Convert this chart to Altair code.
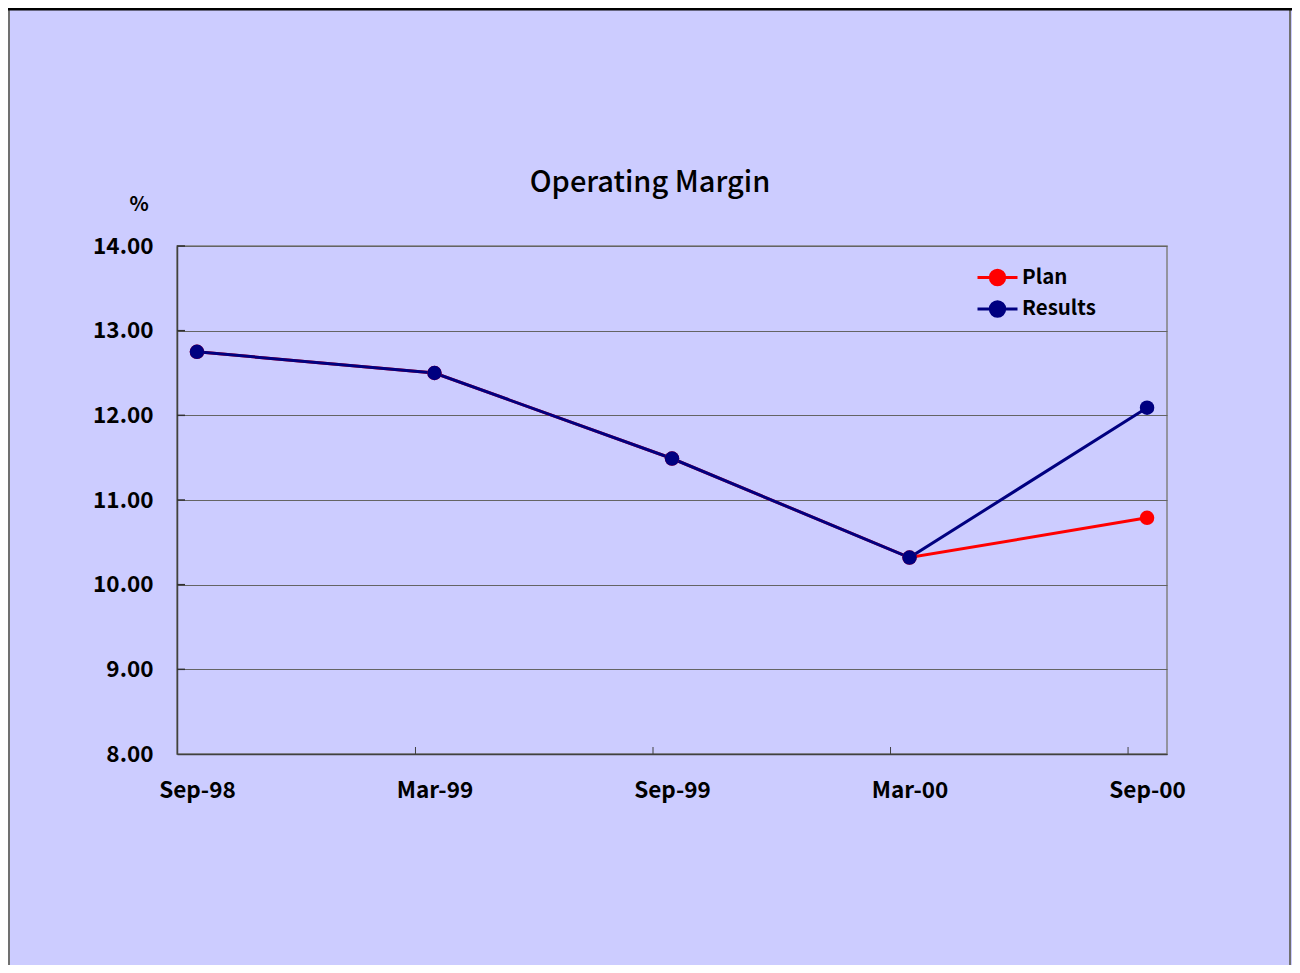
import altair as alt
import pandas as pd

periods = ["Sep-98", "Mar-99", "Sep-99", "Mar-00", "Sep-00"]
plan = [12.75, 12.50, 11.49, 10.32, 10.79]
results = [12.75, 12.50, 11.49, 10.32, 12.09]
series = ["Plan", "Results"]
colors = ["#FF0000", "#000080"]
y_ticks = [8, 9, 10, 11, 12, 13, 14]
title_text = "Operating Margin"
unit_text = "%"

rows = []
for s, vals in zip(series, [plan, results]):
    for p, v in zip(periods, vals):
        rows.append({"period": p, "value": v, "series": s})
df = pd.DataFrame(rows)
tick_df = pd.DataFrame({"period": periods[1:]})
ytick_df = pd.DataFrame({"value": y_ticks[1:]})

FONT = "Noto Sans CJK JP"
W, H = 990, 508
PL, PT = 169, 238
TOTAL_W, TOTAL_H = 1284, 957

xscale = alt.Scale(type="point", domain=periods, padding=0.084)
yscale = alt.Scale(domain=[8, 14], nice=False, zero=False)
x_enc = alt.X(
    "period:O", sort=periods, scale=xscale,
    axis=alt.Axis(title=None, labelAngle=0, ticks=False, domain=True,
                  domainColor="#404040", domainWidth=1.5, grid=False,
                  labelFont=FONT, labelFontWeight="bold", labelFontSize=22.5,
                  labelColor="black", labelPadding=25),
)
y_enc = alt.Y(
    "value:Q", scale=yscale,
    axis=alt.Axis(title=None, values=y_ticks, format=".2f", ticks=False,
                  domainColor="#404040", domainWidth=1.5,
                  gridColor="#646464", gridOpacity=1, gridWidth=1.2,
                  labelFont=FONT, labelFontWeight="bold", labelFontSize=22.5,
                  labelColor="black", labelPadding=24),
)

sym = "M-2,0H2M-0.72,0A0.72,0.72,0,1,1,0.72,0A0.72,0.72,0,1,1,-0.72,0Z"
color_enc = alt.Color(
    "series:N", scale=alt.Scale(domain=series, range=colors),
    legend=alt.Legend(title=None, orient="none", legendX=809, legendY=20,
                      symbolType=sym, symbolSize=400, symbolStrokeWidth=3,
                      labelFont=FONT, labelFontWeight="bold", labelFontSize=20.5,
                      labelColor="black", labelOffset=13, rowPadding=4.5,
                      padding=0, symbolOpacity=1),
)

base = alt.Chart(df)
lines = base.mark_line(strokeWidth=3).encode(x=x_enc, y=y_enc, color=color_enc)
points = base.mark_point(filled=True, size=210, opacity=1).encode(
    x=x_enc, y=y_enc, color=color_enc)

ticks = alt.Chart(tick_df).mark_rule(color="#404040", strokeWidth=1, xOffset=-19).encode(
    x=alt.X("period:O", sort=periods, scale=xscale),
    y=alt.value(H - 7), y2=alt.value(H))

yticks = alt.Chart(ytick_df).mark_rule(color="#303030", strokeWidth=1.5).encode(
    y=alt.Y("value:Q", scale=yscale),
    x=alt.value(0), x2=alt.value(8))

title_df = pd.DataFrame({"t": [title_text]})
title = alt.Chart(title_df).mark_text(
    font=FONT, fontSize=29, fontWeight=500, color="black", align="center", baseline="middle"
).encode(text="t:N", x=alt.value(473), y=alt.value(-63))

unit_df = pd.DataFrame({"t": [unit_text]})
unit = alt.Chart(unit_df).mark_text(
    font=FONT, fontSize=20, fontWeight="bold", color="black",
    align="center", baseline="middle"
).encode(text="t:N", x=alt.value(-38), y=alt.value(-41))

border_df = pd.DataFrame({"b": [0]})
left_b = alt.Chart(border_df).mark_rule(color="#707070", strokeWidth=2).encode(
    x=alt.value(-PL + 1), y=alt.value(-PT), y2=alt.value(TOTAL_H - PT))
right_b = alt.Chart(border_df).mark_rule(color="#707070", strokeWidth=2).encode(
    x=alt.value(TOTAL_W - PL - 2), y=alt.value(-PT), y2=alt.value(TOTAL_H - PT))
top_b = alt.Chart(border_df).mark_rule(color="black", strokeWidth=3).encode(
    y=alt.value(-PT + 1), x=alt.value(-PL), x2=alt.value(TOTAL_W - PL))

chart = alt.layer(lines, points, ticks, yticks, title, unit, left_b, right_b, top_b).properties(
    width=W, height=H,
    padding={"left": PL, "top": PT, "right": TOTAL_W - PL - W, "bottom": TOTAL_H - PT - H},
    autosize=alt.AutoSizeParams(type="none"),
    background="#CCCCFF",
).configure_view(stroke="#808080", strokeWidth=1.5)

chart.save("out.html", embed_options={"renderer": "svg", "actions": False})
